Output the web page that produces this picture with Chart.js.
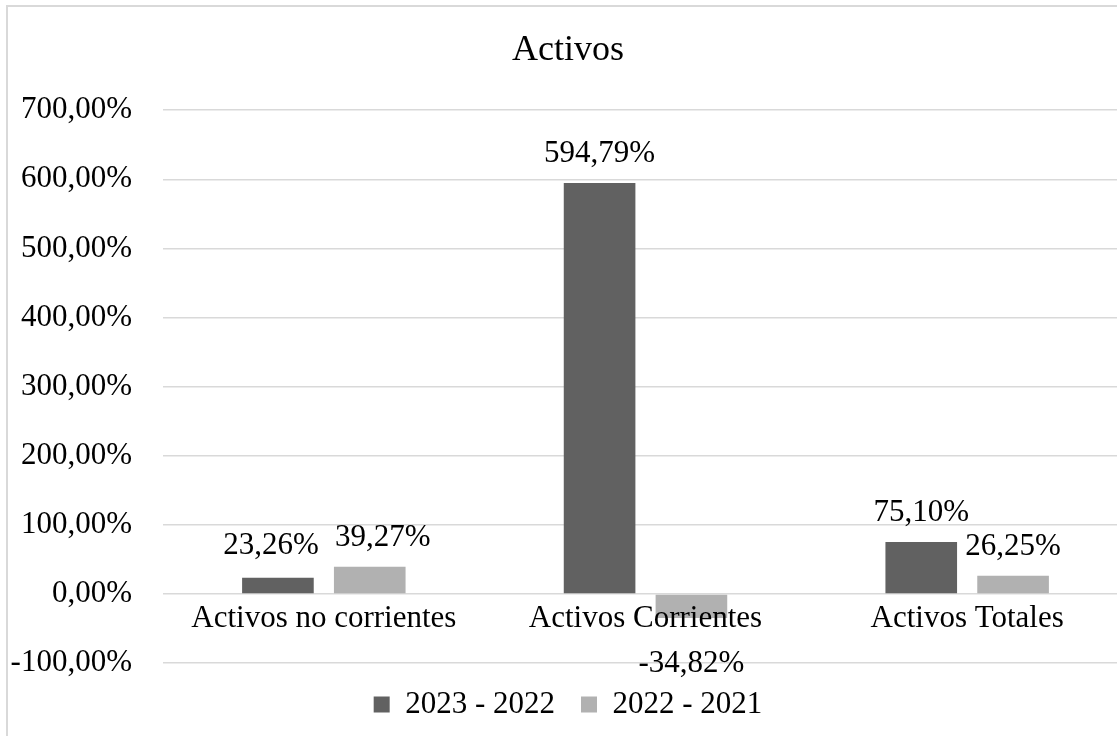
<!DOCTYPE html>
<html>
<head>
<meta charset="utf-8">
<script src="https://cdn.jsdelivr.net/npm/chart.js@4/dist/chart.umd.min.js"></script>
<style>
  html, body { margin: 0; padding: 0; background: #fff; overflow: hidden; }
  #frame {
    position: absolute; left: 6px; top: 5px; width: 1200px; height: 800px;
    border: 2px solid #d9d9d9; box-sizing: border-box;
  }
  #chart { position: absolute; left: 0; top: 0; }
</style>
</head>
<body>
<div id="frame"></div>
<canvas id="chart" width="1136" height="736"></canvas>
<script>
// --- DATA ---
const categories = ["Activos no corrientes", "Activos Corrientes", "Activos Totales"];
const seriesNames = ["2023 - 2022", "2022 - 2021"];
const values2023 = [23.26, 594.79, 75.10];
const values2022 = [39.27, -34.82, 26.25];
const yTicks = [-100, 0, 100, 200, 300, 400, 500, 600, 700];

const FONT = "'Liberation Serif', 'Times New Roman', serif";
const fmt = v => v.toFixed(2).replace(".", ",") + "%";

// small nudges so the first pair of labels don't collide (like Excel does)
const labelNudge = { "0-0": [-7, -3], "1-0": [13, 0] };

// --- DATA LABELS ---
const barLabels = {
    id: "barLabels",
    afterDatasetsDraw(chart) {
        const ctx = chart.ctx;
        ctx.save();
        ctx.font = "31px " + FONT;
        ctx.fillStyle = "#000";
        ctx.textAlign = "center";
        ctx.textBaseline = "middle";
        chart.data.datasets.forEach((ds, i) => {
            chart.getDatasetMeta(i).data.forEach((bar, j) => {
                const v = ds.data[j];
                const n = labelNudge[i + "-" + j] || [0, 0];
                const y = v >= 0 ? bar.y - 29 : bar.y + 46;
                ctx.fillText(fmt(v), bar.x + n[0], y + n[1]);
            });
        });
        ctx.restore();
    }
};

new Chart(document.getElementById("chart"), {
    type: "bar",
    data: {
        labels: categories,
        datasets: [
            { label: seriesNames[0], data: values2023, backgroundColor: "#616161",
              categoryPercentage: 0.571, barPercentage: 0.78 },
            { label: seriesNames[1], data: values2022, backgroundColor: "#b1b1b1",
              categoryPercentage: 0.571, barPercentage: 0.78 }
        ]
    },
    options: {
        responsive: false,
        animation: false,
        layout: { padding: { left: 8, right: 8, top: 0, bottom: 6 } },
        plugins: {
            title: {
                display: true,
                text: "Activos",
                color: "#000",
                font: { family: FONT, size: 36, weight: "normal" },
                padding: { top: 29, bottom: 38 }
            },
            legend: {
                position: "bottom",
                labels: {
                    color: "#000",
                    font: { family: FONT, size: 31 },
                    boxWidth: 16,
                    boxHeight: 16,
                    padding: 26
                }
            },
            tooltip: { enabled: false }
        },
        scales: {
            x: {
                position: { y: 0 },
                grid: { display: false, drawTicks: false, tickLength: 0 },
                border: { display: false },
                ticks: { z: 1, color: "#000", font: { family: FONT, size: 31 }, padding: 6 }
            },
            y: {
                min: -100,
                max: 700,
                afterBuildTicks: s => { s.ticks = yTicks.map(v => ({ value: v })); },
                afterFit: s => { s.width = 155; },
                grid: { color: "#d9d9d9", lineWidth: 1.5, drawTicks: false },
                border: { display: false },
                ticks: {
                    color: "#000",
                    font: { family: FONT, size: 31 },
                    padding: 31,
                    callback: v => fmt(v)
                }
            }
        }
    },
    plugins: [barLabels]
});
</script>
</body>
</html>
